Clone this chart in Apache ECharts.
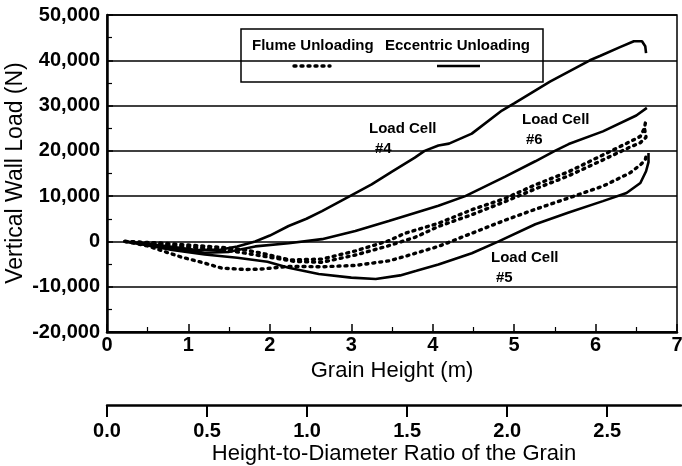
<!DOCTYPE html>
<html><head><meta charset="utf-8">
<script src="https://cdn.jsdelivr.net/npm/echarts@6/dist/echarts.min.js"></script>
<style>html,body{margin:0;padding:0;background:#fff}#c{width:682px;height:466px}</style>
</head><body><div id="c"></div>
<script>
// Eccentric unloading (solid) — grain height (m) and vertical wall load (N)
const ecc4H = [0.22,0.5,0.8,1.1,1.4,1.6,1.82,2.0,2.23,2.45,2.64,2.96,3.25,3.5,3.78,3.9,4.07,4.2,4.48,4.85,5.0,5.44,5.93,6.06,6.3,6.47,6.57,6.61,6.62];
const ecc4V = [0,-500,-1200,-1900,-1800,-1100,0,1300,3400,5000,6700,9800,12600,15400,18500,20000,21200,21600,23800,28900,30500,35300,40000,41000,42900,44200,44200,43100,41600];
const ecc6H = [0.22,0.5,0.8,1.2,1.5,1.82,2.23,2.64,3.05,3.46,3.78,4.07,4.4,4.89,5.26,5.5,5.67,6.09,6.5,6.63];
const ecc6V = [0,-700,-1500,-2500,-2300,-1100,-400,500,2300,4500,6300,7900,10000,14300,17700,20000,21500,24300,27800,29500];
const ecc5H = [0.22,0.5,0.8,1.2,1.6,1.97,2.23,2.6,3.0,3.3,3.6,3.8,4.07,4.48,4.81,5.26,5.67,6.09,6.38,6.55,6.62,6.65,6.65];
const ecc5V = [0,-900,-1900,-2900,-3600,-4500,-5800,-7200,-8000,-8300,-7500,-6500,-5100,-2600,0,3800,6400,8900,10700,12900,15500,17500,19500];
// Flume unloading (dotted)
const flumeAH = [0.22,0.6,1.0,1.4,1.7,1.9,2.25,2.64,3.05,3.46,3.66,4.07,4.48,4.89,5.26,5.67,6.09,6.42,6.55,6.6,6.62];
const flumeAV = [0,-300,-800,-1300,-1900,-2600,-4100,-3900,-2100,150,1800,4000,7000,9500,12500,15400,19100,22000,23200,25000,27000];
const flumeBH = [0.22,0.6,1.0,1.4,1.7,2.0,2.3,2.64,3.05,3.46,3.78,4.07,4.48,4.89,5.26,5.67,6.09,6.42,6.55,6.62,6.6];
const flumeBV = [0,-500,-1200,-1800,-2600,-3500,-4400,-4600,-3000,-950,880,3300,5900,8800,11600,14500,18000,20800,21800,23000,25000];
const flumeCH = [0.22,0.5,0.7,0.92,1.2,1.41,1.7,1.9,2.23,2.64,3.05,3.46,3.66,4.07,4.48,4.89,5.26,5.67,6.09,6.42,6.55,6.61,6.63];
const flumeCV = [0,-1000,-2200,-3500,-4800,-5900,-6200,-6100,-5500,-5600,-5300,-4300,-3300,-1100,1800,4700,7100,9600,12200,15100,16900,18000,19500];
// axes
const heightMax = 7;
const grainDiameter = 2.44; // m, for height-to-diameter ratio axis
const loadMin = -20000, loadMax = 50000, loadStep = 10000;
const yTitle = 'Vertical Wall Load (N)';
const legendLabels = ['Flume Unloading', 'Eccentric Unloading'];
const cellLabels = [['Load Cell', '#4'], ['Load Cell', '#6'], ['Load Cell', '#5']];

function pairs(h, v) { return h.map((x, i) => [x, v[i]]); }
const FONT = '"Liberation Sans", Arial, Helvetica, sans-serif';
const chart = echarts.init(document.getElementById('c'));
const solidStyle = { type: 'solid', width: 2.6, color: '#000' };
const dotStyle = { type: [2, 5], width: 3.4, color: '#000', cap: 'round' };
function line(h, v, style) {
  return { type: 'line', xAxisIndex: 0, yAxisIndex: 0, data: pairs(h, v), showSymbol: false, symbol: 'none',
           lineStyle: style, smooth: false, silent: true };
}
const lblStyle = { color: '#000', fontSize: 20, fontWeight: 'bold', fontFamily: FONT };
const nameStyle = { color: '#000', fontSize: 22, fontFamily: FONT };
const textFont = 'bold 15px ' + FONT;
function txt(x, y, t) { return { type: 'text', x: x, y: y, style: { text: t, font: textFont, fill: '#000', verticalAlign: 'middle' } }; }

chart.setOption({
  animation: false,
  backgroundColor: '#fff',
  grid: [
    { left: 107, right: 5, top: 15, bottom: 134, show: true, borderColor: '#000', borderWidth: 1.5, outerBoundsMode: 'none', containLabel: false },
    { left: 107, right: 1, top: 404, height: 1, outerBoundsMode: 'none', containLabel: false }
  ],
  xAxis: [
    { gridIndex: 0, type: 'value', min: 0, max: heightMax, interval: 1,
      name: 'Grain Height (m)', nameLocation: 'middle', nameGap: 27, nameTextStyle: nameStyle,
      axisLine: { onZero: false, lineStyle: { color: '#000', width: 2.5 } },
      axisTick: { inside: true, length: 8, lineStyle: { color: '#000', width: 1.5 } },
      minorTick: { show: true, splitNumber: 2, length: 5, lineStyle: { color: '#000', width: 1.2 } },
      splitLine: { show: false },
      axisLabel: Object.assign({ margin: 3 }, lblStyle) },
    { gridIndex: 1, type: 'value', min: 0, max: heightMax / grainDiameter, interval: 0.5,
      name: 'Height-to-Diameter Ratio of the Grain', nameLocation: 'middle', nameGap: 38, nameTextStyle: nameStyle,
      axisLine: { onZero: false, lineStyle: { color: '#000', width: 2.5 } },
      axisTick: { inside: false, length: 12, lineStyle: { color: '#000', width: 2 } },
      splitLine: { show: false },
      axisLabel: Object.assign({ margin: 16, showMaxLabel: false, formatter: v => v.toFixed(1) }, lblStyle) }
  ],
  yAxis: [
    { gridIndex: 0, type: 'value', min: loadMin, max: loadMax, interval: loadStep,
      axisLine: { onZero: false, lineStyle: { color: '#000', width: 2.5 } },
      axisTick: { inside: true, length: 6, lineStyle: { color: '#000', width: 1.5 } },
      minorTick: { show: true, splitNumber: 2, length: 5, lineStyle: { color: '#000', width: 1.2 } },
      splitLine: { show: true, lineStyle: { color: '#000', width: 1.5 } },
      axisLabel: Object.assign({ margin: 7, formatter: v => String(v).replace(/\B(?=(\d{3})+(?!\d))/g, ',') }, lblStyle) },
    { gridIndex: 1, type: 'value', show: false, min: 0, max: 1 }
  ],
  series: [
    line(ecc4H, ecc4V, solidStyle),
    line(ecc6H, ecc6V, solidStyle),
    line(ecc5H, ecc5V, solidStyle),
    line(flumeAH, flumeAV, dotStyle),
    line(flumeBH, flumeBV, dotStyle),
    line(flumeCH, flumeCV, dotStyle)
  ],
  graphic: [
    { type: 'text', x: 16, y: 173, rotation: Math.PI / 2,
      style: { text: yTitle, font: '23px ' + FONT, fill: '#000', align: 'center', verticalAlign: 'middle' } },
    { type: 'rect', shape: { x: 241, y: 29, width: 302, height: 53 }, style: { fill: 'none', stroke: '#000', lineWidth: 1.5 } },
    txt(252, 46, legendLabels[0]),
    txt(385, 46, legendLabels[1]),
    { type: 'line', shape: { x1: 294, y1: 66, x2: 330, y2: 66 }, style: { stroke: '#000', lineWidth: 3.4, lineDash: [2, 5], lineCap: 'round' } },
    { type: 'line', shape: { x1: 437, y1: 66, x2: 480, y2: 66 }, style: { stroke: '#000', lineWidth: 2.6 } },
    txt(369, 129, cellLabels[0][0]), txt(375, 149, cellLabels[0][1]),
    txt(522, 120, cellLabels[1][0]), txt(526, 140, cellLabels[1][1]),
    txt(491, 258, cellLabels[2][0]), txt(496, 278, cellLabels[2][1])
  ]
});
</script></body></html>
